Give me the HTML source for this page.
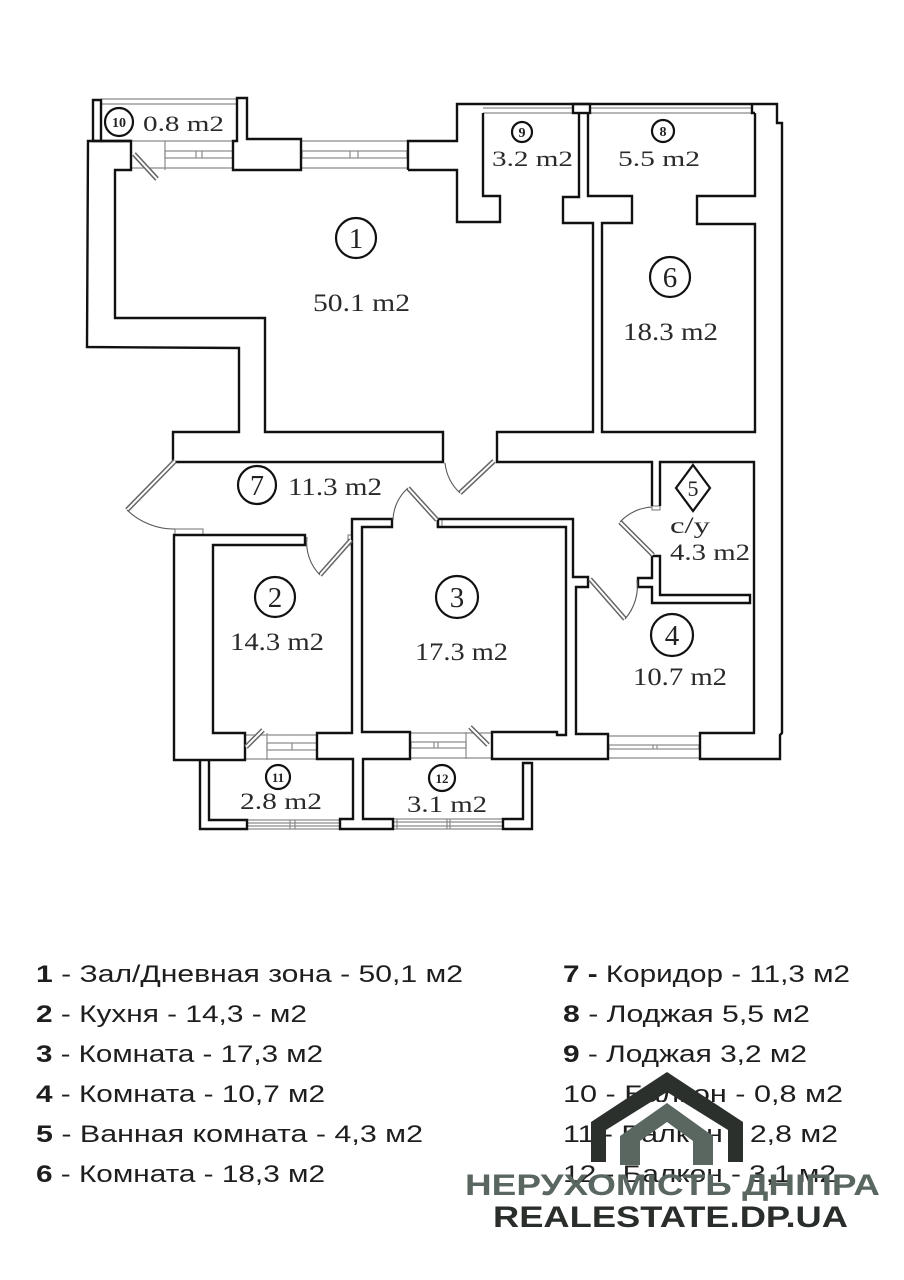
<!DOCTYPE html>
<html><head><meta charset="utf-8"><style>html,body{margin:0;padding:0;background:#fff}svg{display:block}</style></head>
<body>
<svg width="904" height="1280" viewBox="0 0 904 1280" xmlns="http://www.w3.org/2000/svg">
<rect width="904" height="1280" fill="#fff"/>

<!-- thin window lines -->
<g fill="none" stroke="#8a8a8a" stroke-width="1.2">
  <line x1="101" y1="99" x2="237" y2="99"/>
  <line x1="101" y1="104" x2="237" y2="104"/>
  <line x1="131" y1="141" x2="233" y2="141"/>
  <line x1="165" y1="141" x2="165" y2="170"/>
  <rect x="165" y="151" width="68" height="7"/>
  <line x1="196" y1="151" x2="196" y2="158"/><line x1="202" y1="151" x2="202" y2="158"/>
  <line x1="131" y1="168" x2="233" y2="168"/>
  <line x1="301" y1="141" x2="408" y2="141"/>
  <rect x="302" y="151" width="105" height="7"/>
  <line x1="350" y1="151" x2="350" y2="158"/><line x1="358" y1="151" x2="358" y2="158"/>
  <line x1="301" y1="168" x2="408" y2="168"/>
  <line x1="483" y1="113" x2="573" y2="113"/>
  <line x1="590" y1="113" x2="752" y2="113"/>
  <line x1="483" y1="108" x2="573" y2="108"/>
  <line x1="590" y1="108" x2="752" y2="108"/>
  <line x1="245" y1="735" x2="317" y2="735"/>
  <line x1="267" y1="733" x2="267" y2="760"/>
  <rect x="267" y="743" width="50" height="7"/>
  <line x1="292" y1="743" x2="292" y2="750"/>
  <line x1="245" y1="759" x2="317" y2="759"/>
  <line x1="410" y1="733" x2="492" y2="733"/>
  <rect x="411" y="742" width="55" height="6"/>
  <line x1="434" y1="742" x2="434" y2="748"/><line x1="438" y1="742" x2="438" y2="748"/>
  <line x1="466" y1="732" x2="466" y2="759"/>
  <line x1="410" y1="758" x2="492" y2="758"/>
  <line x1="608" y1="736" x2="700" y2="736"/>
  <rect x="609" y="745" width="90" height="4"/>
  <line x1="653" y1="745" x2="653" y2="749"/><line x1="657" y1="745" x2="657" y2="749"/>
  <line x1="608" y1="758" x2="700" y2="758"/>
  <line x1="247" y1="823" x2="340" y2="823"/>
  <line x1="247" y1="826" x2="340" y2="826"/>
  <line x1="290" y1="820" x2="290" y2="829"/><line x1="295" y1="820" x2="295" y2="829"/>
  <line x1="247" y1="829" x2="340" y2="829"/>
  <line x1="247" y1="820" x2="340" y2="820"/>
  <line x1="393" y1="822" x2="503" y2="822"/>
  <line x1="393" y1="826" x2="503" y2="826"/>
  <line x1="397" y1="819" x2="397" y2="829"/><line x1="447" y1="819" x2="447" y2="829"/><line x1="450" y1="819" x2="450" y2="829"/>
  <line x1="393" y1="829" x2="503" y2="829"/>
  <line x1="393" y1="819" x2="503" y2="819"/>
  <rect x="175" y="529" width="28" height="6"/>
  <rect x="348" y="535" width="4" height="10"/>
  <rect x="652" y="506" width="8" height="4"/>
  <rect x="437" y="519" width="5" height="8"/>
</g>

<!-- walls -->
<g fill="none" stroke="#111" stroke-width="2.4" stroke-linejoin="miter">
  <path d="M93,100 L101,100 L101,141 L93,141 Z"/>
  <path d="M101,141 L131,141"/>
  <path d="M237,141 L237,98 L247,98 L247,139 L301,139 L301,170 L233,170 L233,141 Z"/>
  <path d="M88,141 L131,141 L131,170 L115,170 L115,318 L265,318 L265,432 L443,432 L443,462 L173,462 L173,432 L239,432 L239,348 L87,347 Z"/>
  <path d="M408,170 L457,170 L457,222 L500,222 L500,196 L483,196 L483,113"/>
  <path d="M408,170 L408,141 L457,141 L457,104 L777,104 L777,123 L782,123 L782,733 L780,735 L780,759 L700,759 L700,733 L754,733 L754,462 L660,462 L660,506"/>
  <rect x="573" y="104" width="17" height="9"/>
  <path d="M752,104 L752,113 L755,113"/>
  <path d="M579,113 L579,197 L563,197 L563,223 L593,223 L593,432 L497,432 L497,462 L652,462 L652,506"/>
  <path d="M588,113 L588,196 L632,196 L632,223 L602,223 L602,432 L755,432 L755,224 L697,224 L697,196 L755,196 L755,113"/>
  <path d="M652,578 L652,556 L660,556 L660,595 L750,595 L750,603 L652,603 L652,587 L638,587 L638,578 Z"/>
  <path d="M438,527 L438,519 L573,519 L573,577 L588,577 L588,587 L576,587 L576,734 L608,734 L608,759 L492,759 L492,732 L557,732 L557,735 L566,735 L566,527 Z"/>
  <path d="M392,527 L392,519 L352,519 L352,733 L317,733 L317,759 L353,759 L353,819 L340,819 L340,829 L393,829 L393,819 L363,819 L363,759 L410,759 L410,732 L362,732 L362,527 Z"/>
  <path d="M305,535 L174,535 L174,760 L245,760 L245,733 L213,733 L213,545 L305,545 Z"/>
  <path d="M200,760 L200,829 L247,829 L247,820 L209,820 L209,760"/>
  <path d="M503,819 L523,819 L523,763 L532,763 L532,829 L503,829 Z"/>
</g>

<!-- door leaves & sashes -->
<g stroke-linecap="butt">
  <g stroke="#666" stroke-width="5">
    <line x1="134" y1="154" x2="157" y2="179"/>
    <line x1="494" y1="461" x2="460" y2="493"/>
    <line x1="175" y1="461" x2="127" y2="510"/>
    <line x1="351" y1="540" x2="320" y2="575"/>
    <line x1="437" y1="520" x2="408" y2="488"/>
    <line x1="653" y1="555" x2="620" y2="522"/>
    <line x1="590" y1="579" x2="625" y2="619"/>
    <line x1="246" y1="747" x2="263" y2="730"/>
    <line x1="470" y1="727" x2="488" y2="745"/>
  </g>
  <g stroke="#fff" stroke-width="2">
    <line x1="134" y1="154" x2="157" y2="179"/>
    <line x1="494" y1="461" x2="460" y2="493"/>
    <line x1="175" y1="461" x2="127" y2="510"/>
    <line x1="351" y1="540" x2="320" y2="575"/>
    <line x1="437" y1="520" x2="408" y2="488"/>
    <line x1="653" y1="555" x2="620" y2="522"/>
    <line x1="590" y1="579" x2="625" y2="619"/>
    <line x1="246" y1="747" x2="263" y2="730"/>
    <line x1="470" y1="727" x2="488" y2="745"/>
  </g>
</g>
<g fill="none" stroke="#555" stroke-width="1.1">
  <path d="M460,493 A48,48 0 0 1 445,463"/>
  <path d="M127,510 A68,68 0 0 0 175,529"/>
  <path d="M320,575 A46,46 0 0 1 307,537"/>
  <path d="M408,488 A44,44 0 0 0 393,520"/>
  <path d="M620,522 A47,47 0 0 1 652,507"/>
  <path d="M625,619 A50,50 0 0 0 637,580"/>
</g>

<!-- room markers -->
<g fill="none" stroke="#111" stroke-width="2.2">
  <circle cx="356" cy="238" r="20"/>
  <circle cx="670" cy="277" r="20"/>
  <circle cx="257" cy="485" r="19"/>
  <circle cx="275" cy="597" r="20"/>
  <circle cx="457" cy="597" r="21"/>
  <circle cx="672" cy="635" r="21"/>
  <circle cx="119" cy="122" r="14"/>
  <circle cx="522" cy="132" r="10"/>
  <circle cx="663" cy="131" r="11"/>
  <circle cx="278" cy="777" r="12"/>
  <circle cx="442" cy="778" r="13"/>
  <polygon points="693,465 710,488 693,511 676,488"/>
</g>

<g font-family="'Liberation Serif', serif" fill="#222" text-anchor="middle">
  <text x="356" y="248" font-size="29">1</text>
  <text x="670" y="287" font-size="29">6</text>
  <text x="257" y="495" font-size="28">7</text>
  <text x="275" y="607" font-size="29">2</text>
  <text x="457" y="607" font-size="29">3</text>
  <text x="672" y="645" font-size="29">4</text>
  <text x="693" y="496" font-size="22">5</text>
  <text x="119" y="127" font-size="14" font-weight="bold">10</text>
  <text x="522" y="137" font-size="14" font-weight="bold">9</text>
  <text x="663" y="136" font-size="14" font-weight="bold">8</text>
  <text x="278" y="782" font-size="13" font-weight="bold">11</text>
  <text x="442" y="783" font-size="13" font-weight="bold">12</text>
</g>
<g font-family="'Liberation Serif', serif" fill="#2a2a2a">
  <text x="143" y="131" font-size="22" textLength="81" lengthAdjust="spacingAndGlyphs">0.8 m2</text>
  <text x="313" y="311" font-size="25" textLength="97" lengthAdjust="spacingAndGlyphs">50.1 m2</text>
  <text x="492" y="166" font-size="22" textLength="81" lengthAdjust="spacingAndGlyphs">3.2 m2</text>
  <text x="618" y="166" font-size="22" textLength="82" lengthAdjust="spacingAndGlyphs">5.5 m2</text>
  <text x="623" y="340" font-size="25" textLength="95" lengthAdjust="spacingAndGlyphs">18.3 m2</text>
  <text x="288" y="495" font-size="25" textLength="94" lengthAdjust="spacingAndGlyphs">11.3 m2</text>
  <text x="230" y="650" font-size="25" textLength="94" lengthAdjust="spacingAndGlyphs">14.3 m2</text>
  <text x="415" y="660" font-size="25" textLength="93" lengthAdjust="spacingAndGlyphs">17.3 m2</text>
  <text x="633" y="685" font-size="25" textLength="94" lengthAdjust="spacingAndGlyphs">10.7 m2</text>
  <text x="240" y="809" font-size="23" textLength="82" lengthAdjust="spacingAndGlyphs">2.8 m2</text>
  <text x="407" y="812" font-size="23" textLength="80" lengthAdjust="spacingAndGlyphs">3.1 m2</text>
  <text x="670" y="533" font-size="23" textLength="40" lengthAdjust="spacingAndGlyphs">c/y</text>
  <text x="670" y="560" font-size="23" textLength="80" lengthAdjust="spacingAndGlyphs">4.3 m2</text>
</g>

<!-- legend -->
<g font-family="'Liberation Sans', 'DejaVu Sans', sans-serif" font-size="24" fill="#1e1e1e">
  <text x="36" y="982" textLength="427" lengthAdjust="spacingAndGlyphs"><tspan font-weight="bold">1</tspan> - Зал/Дневная зона - 50,1 м2</text>
  <text x="36" y="1022" textLength="271" lengthAdjust="spacingAndGlyphs"><tspan font-weight="bold">2</tspan> - Кухня - 14,3 - м2</text>
  <text x="36" y="1062" textLength="287" lengthAdjust="spacingAndGlyphs"><tspan font-weight="bold">3</tspan> - Комната - 17,3 м2</text>
  <text x="36" y="1102" textLength="289" lengthAdjust="spacingAndGlyphs"><tspan font-weight="bold">4</tspan> - Комната - 10,7 м2</text>
  <text x="36" y="1142" textLength="387" lengthAdjust="spacingAndGlyphs"><tspan font-weight="bold">5</tspan> - Ванная комната - 4,3 м2</text>
  <text x="36" y="1182" textLength="289" lengthAdjust="spacingAndGlyphs"><tspan font-weight="bold">6</tspan> - Комната - 18,3 м2</text>
  <text x="563" y="982" textLength="287" lengthAdjust="spacingAndGlyphs"><tspan font-weight="bold">7 -</tspan> Коридор - 11,3 м2</text>
  <text x="563" y="1022" textLength="247" lengthAdjust="spacingAndGlyphs"><tspan font-weight="bold">8</tspan> - Лоджая 5,5 м2</text>
  <text x="563" y="1062" textLength="244" lengthAdjust="spacingAndGlyphs"><tspan font-weight="bold">9</tspan> - Лоджая 3,2 м2</text>
  <text x="563" y="1102" textLength="280" lengthAdjust="spacingAndGlyphs">10 - Балкон - 0,8 м2</text>
  <text x="563" y="1142" textLength="275" lengthAdjust="spacingAndGlyphs">11 - Балкон - 2,8 м2</text>
  <text x="563" y="1182" textLength="273" lengthAdjust="spacingAndGlyphs">12 - Балкон - 3,1 м2</text>
</g>

<!-- watermark logo -->
<polygon fill="#2c302d" points="591,1162 591,1122 667,1072 743,1122 743,1162 728,1162 728,1130 667,1092 606,1130 606,1162"/>
<polygon fill="#5a6660" points="620,1165 620,1136 667,1103 713,1136 713,1165 693,1165 693,1141 667,1122 640,1141 640,1165"/>
<g font-family="'Liberation Sans', 'DejaVu Sans', sans-serif" font-weight="bold" font-size="30">
  <text x="465" y="1195" fill="#5a6660" textLength="415" lengthAdjust="spacingAndGlyphs">НЕРУХОМІСТЬ ДНІПРА</text>
  <text x="493" y="1227" fill="#2a2e2b" textLength="355" lengthAdjust="spacingAndGlyphs">REALESTATE.DP.UA</text>
</g>
</svg>
</body></html>
